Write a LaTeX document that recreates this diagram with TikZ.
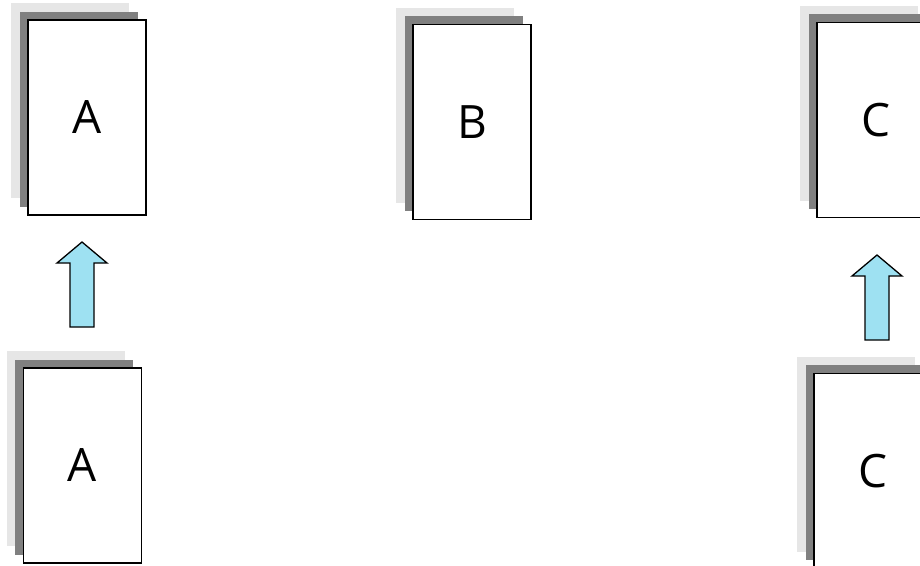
\documentclass[tikz,border=0pt]{standalone}
\usepackage{fontspec}
\setmainfont{Open Sans}
\usetikzlibrary{shadows}

\tikzset{
    card/.style={draw=black, line width=1.8pt, fill=white, inner sep=0pt,
        minimum width=118pt, minimum height=195pt, font=\fontsize{46}{50}\selectfont,
        general shadow={fill=shadowLight, shadow xshift=-17pt, shadow yshift=17pt},
        general shadow={fill=shadowDark, shadow xshift=-8.5pt, shadow yshift=8.5pt}},
    liftarrow/.style={fill=arrowFill, draw=black, line width=1.3pt, line join=miter}
}

\begin{document}
\begin{tikzpicture}[x=1pt, y=-1pt]
    \definecolor{shadowLight}{HTML}{E6E6E6}
    \definecolor{shadowDark}{HTML}{808080}
    \definecolor{arrowFill}{HTML}{9EE1F2}

    % Page frame
    \useasboundingbox (0,0) rectangle (920,565);
    \clip (0,0) rectangle (920,565);

    % Top row of cards
    \node[card] (topA) at (87,117.5) {A};
    \node[card] (topB) at (472,122) {B};
    \node[card] (topC) at (876,120) {C};

    % Bottom row of cards
    \node[card] (lowA) at (82.5,465.5) {A};
    \node[card] (lowC) at (873,471) {C};

    % Block arrows, tip first
    \foreach \tx/\ty in {82/242, 877/255}
        \filldraw[liftarrow] (\tx,\ty) -- ++(25,21) -- ++(-13,0) -- ++(0,64)
            -- ++(-24,0) -- ++(0,-64) -- ++(-13,0) -- cycle;

\end{tikzpicture}
\end{document}
